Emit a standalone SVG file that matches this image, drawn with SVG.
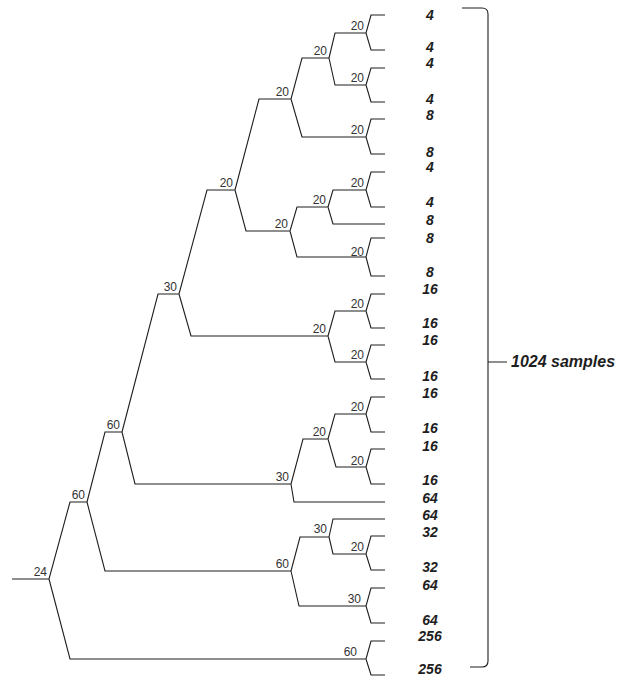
<svg xmlns="http://www.w3.org/2000/svg" width="626" height="677" viewBox="0 0 626 677">
  <style>
    .br { fill: none; stroke: #1e1e1e; stroke-width: 1.1; stroke-linejoin: miter; }
    .nl { font-family: "Liberation Sans", Arial, sans-serif; font-size: 12px; fill: #333; text-anchor: end; }
    .lf { font-family: "Liberation Sans", Arial, sans-serif; font-size: 14px; font-weight: bold; font-style: italic; fill: #1e1e1e; text-anchor: middle; }
    .ann { font-family: "Liberation Sans", Arial, sans-serif; font-size: 16px; font-weight: bold; font-style: italic; fill: #1e1e1e; }
  </style>
  <rect width="626" height="677" fill="#fff"/>

  <!-- tree branches: each node = incoming horizontal + two diagonals to child levels -->
  <g id="connectors" class="br">
    <!-- root 24 -->
    <path d="M12,579 H49 L70,502 H87 M49,579 L70,659 H366"/>
    <!-- N 60 -->
    <path d="M87,502 L105,432 H122 M87,502 L105,571 H291"/>
    <!-- K 60 -->
    <path d="M122,432 L158,294 H179 M122,432 L135,484 H291"/>
    <!-- G 30 -->
    <path d="M179,294 L207,190 H235 M179,294 L191,336 H328"/>
    <!-- E 20 -->
    <path d="M235,190 L259,99 H291 M235,190 L246,231 H290"/>
    <!-- B 20 -->
    <path d="M291,99 L302,58 H329 M291,99 L302,137 H366"/>
    <!-- A 20 -->
    <path d="M329,58 L335,33 H366 M329,58 L335,85 H366"/>
    <!-- D 20 -->
    <path d="M290,231 L297,207 H328 M290,231 L297,257 H366"/>
    <!-- C 20 -->
    <path d="M328,207 L333,190 H366 M328,207 L333,224 H385"/>
    <!-- F 20 -->
    <path d="M328,336 L335,311 H366 M328,336 L335,362 H366"/>
    <!-- I 30 -->
    <path d="M291,484 L303,439 H328 M291,484 L294,502 H385"/>
    <!-- H 20 -->
    <path d="M328,439 L335,414 H366 M328,439 L336,467 H366"/>
    <!-- M 60 -->
    <path d="M291,571 L300,537 H329 M291,571 L299,606 H366"/>
    <!-- L 30 -->
    <path d="M329,537 L333,519 H385 M329,537 L333,554 H366"/>
    <!-- terminal pairs -->
    <path d="M366,33 L371,15 H385 M366,33 L371,50 H385"/>
    <path d="M366,85 L371,68 H385 M366,85 L371,102 H385"/>
    <path d="M366,137 L371,119 H385 M366,137 L371,154 H385"/>
    <path d="M366,190 L371,172 H385 M366,190 L371,207 H385"/>
    <path d="M366,257 L371,238 H385 M366,257 L371,276 H385"/>
    <path d="M366,311 L371,294 H385 M366,311 L371,328 H385"/>
    <path d="M366,362 L371,345 H385 M366,362 L371,379 H385"/>
    <path d="M366,414 L371,397 H385 M366,414 L371,432 H385"/>
    <path d="M366,467 L371,449 H385 M366,467 L371,484 H385"/>
    <path d="M366,554 L371,536 H385 M366,554 L371,570 H385"/>
    <path d="M366,606 L371,588 H385 M366,606 L371,623 H385"/>
    <path d="M366,659 L371,641 H385 M366,659 L371,675 H385"/>
    <!-- bracket -->
    <path d="M462,8 H482 Q488,8 488,14 V661 Q488,667 482,667 H470 M488,362 H507"/>
  </g>

  <!-- internal node labels -->
  <g id="node-root"><text class="nl" x="47" y="576">24</text></g>
  <g id="node-n"><text class="nl" x="85" y="499">60</text></g>
  <g id="node-k"><text class="nl" x="120" y="429">60</text></g>
  <g id="node-g"><text class="nl" x="177" y="291">30</text></g>
  <g id="node-e"><text class="nl" x="233" y="187">20</text></g>
  <g id="node-b"><text class="nl" x="289" y="96">20</text></g>
  <g id="node-a"><text class="nl" x="327" y="55">20</text></g>
  <g id="node-d"><text class="nl" x="288" y="228">20</text></g>
  <g id="node-c"><text class="nl" x="326" y="204">20</text></g>
  <g id="node-f"><text class="nl" x="326" y="333">20</text></g>
  <g id="node-i"><text class="nl" x="289" y="481">30</text></g>
  <g id="node-h"><text class="nl" x="326" y="436">20</text></g>
  <g id="node-m"><text class="nl" x="289" y="568">60</text></g>
  <g id="node-l"><text class="nl" x="327" y="533">30</text></g>
  <g id="node-p1"><text class="nl" x="364" y="30">20</text></g>
  <g id="node-p2"><text class="nl" x="364" y="82">20</text></g>
  <g id="node-p3"><text class="nl" x="364" y="134">20</text></g>
  <g id="node-p4"><text class="nl" x="364" y="187">20</text></g>
  <g id="node-p5"><text class="nl" x="364" y="256">20</text></g>
  <g id="node-p6"><text class="nl" x="364" y="308">20</text></g>
  <g id="node-p7"><text class="nl" x="364" y="359">20</text></g>
  <g id="node-p8"><text class="nl" x="364" y="411">20</text></g>
  <g id="node-p9"><text class="nl" x="364" y="465">20</text></g>
  <g id="node-p10"><text class="nl" x="364" y="551">20</text></g>
  <g id="node-p11"><text class="nl" x="361" y="603">30</text></g>
  <g id="node-p12"><text class="nl" x="357" y="656">60</text></g>

  <!-- leaf labels -->
  <g id="leaves">
    <text class="lf" x="430" y="20">4</text>
    <text class="lf" x="430" y="52">4</text>
    <text class="lf" x="430" y="68">4</text>
    <text class="lf" x="430" y="104">4</text>
    <text class="lf" x="430" y="120">8</text>
    <text class="lf" x="430" y="157">8</text>
    <text class="lf" x="430" y="172">4</text>
    <text class="lf" x="430" y="207">4</text>
    <text class="lf" x="430" y="225">8</text>
    <text class="lf" x="430" y="243">8</text>
    <text class="lf" x="430" y="277">8</text>
    <text class="lf" x="430" y="294">16</text>
    <text class="lf" x="430" y="328">16</text>
    <text class="lf" x="430" y="345">16</text>
    <text class="lf" x="430" y="381">16</text>
    <text class="lf" x="430" y="398">16</text>
    <text class="lf" x="430" y="433">16</text>
    <text class="lf" x="430" y="451">16</text>
    <text class="lf" x="430" y="485">16</text>
    <text class="lf" x="430" y="503">64</text>
    <text class="lf" x="430" y="520">64</text>
    <text class="lf" x="430" y="537">32</text>
    <text class="lf" x="430" y="572">32</text>
    <text class="lf" x="430" y="590">64</text>
    <text class="lf" x="430" y="625">64</text>
    <text class="lf" x="430" y="641">256</text>
    <text class="lf" x="430" y="674">256</text>
  </g>

  <g id="bracket-label"><text class="ann" x="511" y="367">1024 samples</text></g>
</svg>
